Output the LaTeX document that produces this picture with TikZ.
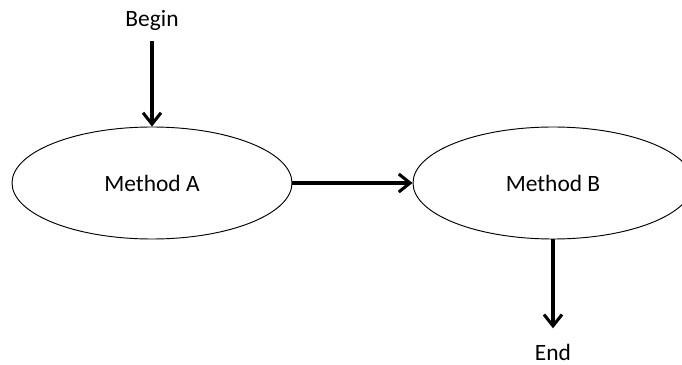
\documentclass[tikz,border=0pt]{standalone}
\usepackage{fontspec}
\setmainfont{Carlito}
\usetikzlibrary{arrows.meta,shapes.geometric}
\tikzset{
  metodo/.style={draw, ellipse, line width=0.8pt, minimum width=8.4cm, minimum height=3.36cm, inner sep=0pt},
  flujo/.style={line width=2.6pt, -{Straight Barb[length=3.4mm, width=5.4mm]}},
}
\begin{document}
\begin{tikzpicture}[font=\fontsize{20}{24}\selectfont]
    \useasboundingbox (0,0) rectangle (20.46,-10.95);

    % Nodos
    \node[metodo] (methodA) at (4.56,-5.49) {Method A};
    \node[metodo] (methodB) at (16.59,-5.49) {Method B};
    \node[inner sep=1pt] (begin) at (4.56,-0.6) {Begin};
    \node[inner sep=1pt] (stop) at (16.59,-10.56) {End};

    % Flechas
    \draw[flujo, shorten <=8pt] (begin) -- (methodA);
    \draw[flujo] (methodA) -- (methodB);
    \draw[flujo, shorten >=12pt] (methodB) -- (stop);
\end{tikzpicture}
\end{document}
